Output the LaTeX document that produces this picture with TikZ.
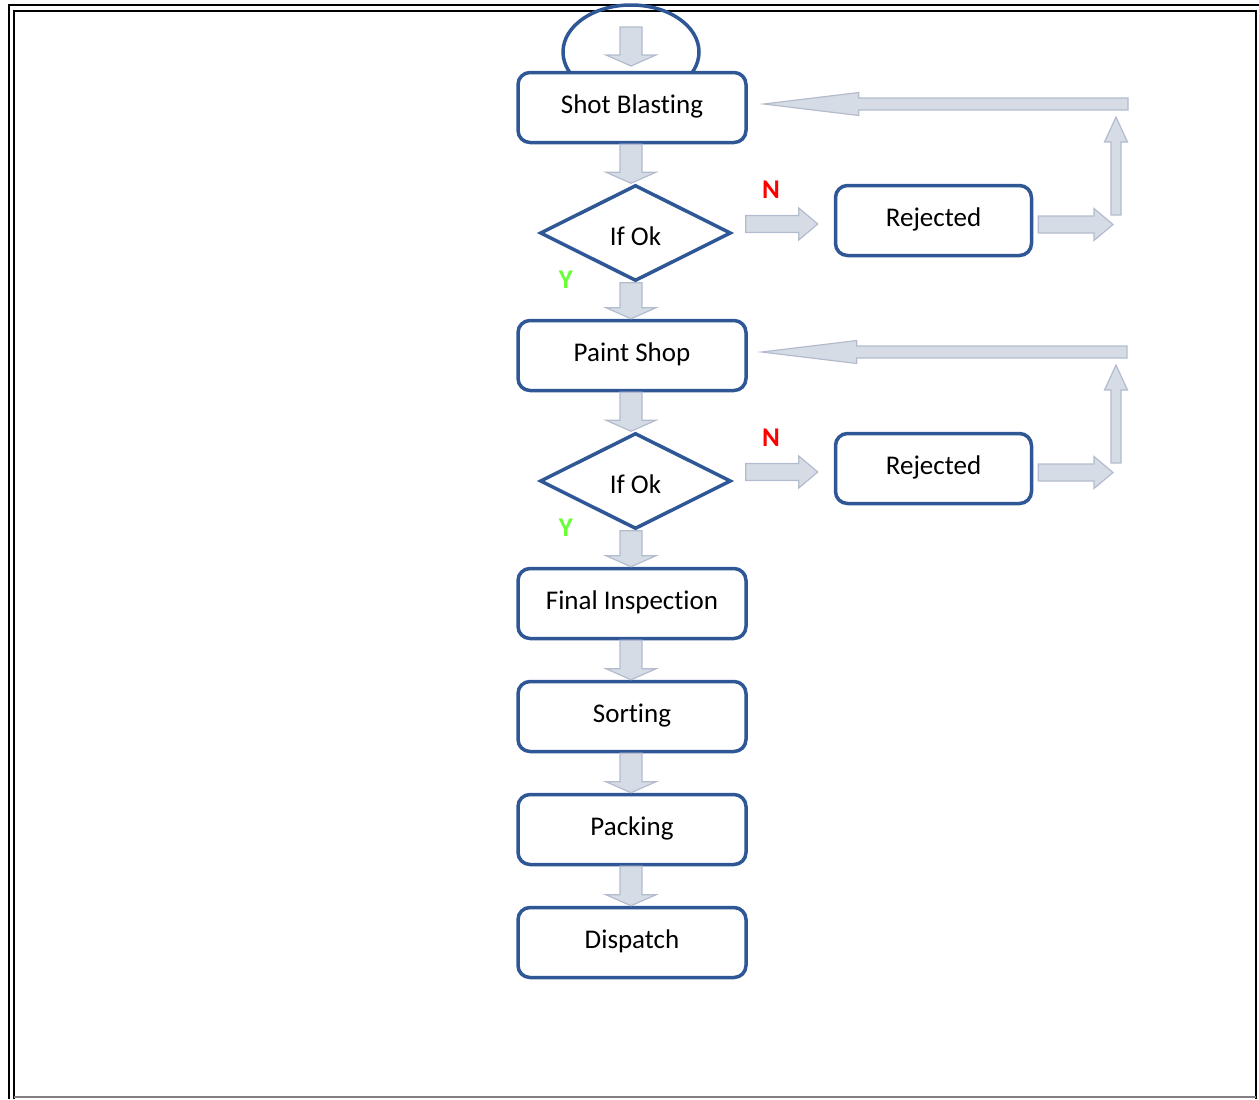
\documentclass[tikz,border=0pt]{standalone}
\usepackage{fontspec}
\setmainfont[Ligatures=NoCommon]{Carlito}
\usetikzlibrary{shapes.geometric,calc}

\definecolor{boxblue}{RGB}{47,87,150}
\definecolor{arrowfill}{RGB}{214,220,229}
\definecolor{arrowline}{RGB}{178,188,206}
\definecolor{yesgreen}{RGB}{102,255,51}

% block arrows between two points (shaft half width, head half width, head length in pt)
\newcommand{\flowdown}[2]{\path[flowarrow] let \p1=(#1), \p2=(#2) in
  (\x1-5.5pt,\y1) -- (\x1-5.5pt,\y2+5.5pt) -- (\x1-12.5pt,\y2+5.5pt) -- (\x1,\y2)
  -- (\x1+12.5pt,\y2+5.5pt) -- (\x1+5.5pt,\y2+5.5pt) -- (\x1+5.5pt,\y1) -- cycle;}
\newcommand{\flowright}[2]{\path[flowarrow] let \p1=(#1), \p2=(#2) in
  (\x1,\y1+4.25pt) -- (\x2-9.5pt,\y1+4.25pt) -- (\x2-9.5pt,\y1+8pt) -- (\x2,\y1)
  -- (\x2-9.5pt,\y1-8pt) -- (\x2-9.5pt,\y1-4.25pt) -- (\x1,\y1-4.25pt) -- cycle;}
\newcommand{\flowup}[2]{\path[flowarrow] let \p1=(#1), \p2=(#2) in
  (\x1-2.5pt,\y1) -- (\x1-2.5pt,\y2-12.5pt) -- (\x1-5.75pt,\y2-12.5pt) -- (\x1,\y2)
  -- (\x1+5.75pt,\y2-12.5pt) -- (\x1+2.5pt,\y2-12.5pt) -- (\x1+2.5pt,\y1) -- cycle;}
\newcommand{\flowleft}[2]{\path[flowarrow] let \p1=(#1), \p2=(#2) in
  (\x1,\y1+3pt) -- (\x2+47.5pt,\y1+3pt) -- (\x2+47.5pt,\y1+5.75pt) -- (\x2,\y1)
  -- (\x2+47.5pt,\y1-5.75pt) -- (\x2+47.5pt,\y1-3pt) -- (\x1,\y1-3pt) -- cycle;}

\tikzset{
	stepbox/.style={draw=boxblue,line width=1.75pt,rounded corners=6pt,fill=white,
		minimum width=114pt,minimum height=35pt,text height=9.5pt,text depth=3.5pt,
		font=\fontsize{13.5}{16}\selectfont},
	rejectbox/.style={stepbox,minimum width=98pt},
	decision/.style={diamond,draw=boxblue,line width=1.75pt,fill=white,inner sep=0pt,
		minimum width=95.5pt,minimum height=48pt,text height=13pt,
		font=\fontsize{13.5}{16}\selectfont},
	flowarrow/.style={fill=arrowfill,draw=arrowline,line width=0.6pt},
	yeslabel/.style={text=yesgreen,font=\fontsize{13.5}{16}\selectfont\bfseries},
	nolabel/.style={text=red,font=\fontsize{13.5}{16}\selectfont\bfseries}
}

\begin{document}
\begin{tikzpicture}[x=0.5pt,y=-0.5pt]
	\useasboundingbox (0,0) rectangle (1259,1099);

	% frame
	\draw[line width=1pt] (9,1099) -- (9,5) -- (1259,5);
	\draw[line width=1pt] (14,1099) -- (14,11) -- (1256,11) -- (1256,1099);
	\draw[gray,line width=0.75pt] (14,1097) -- (1256,1097);

	\node[draw=boxblue,line width=1.75pt,ellipse,minimum width=68pt,minimum height=47pt] (start) at (631,52) {};

	\node[stepbox] (sb) at (632,107.5) {Shot Blasting};
	\node[decision] (ok1) at (635.5,233) {If Ok};
	\node[rejectbox] (rej1) at (933.5,220.5) {Rejected};
	\node[stepbox] (ps) at (632,355.5) {Paint Shop};
	\node[decision] (ok2) at (635.5,481) {If Ok};
	\node[rejectbox] (rej2) at (933.5,468.5) {Rejected};
	\node[stepbox] (fi) at (632,603.5) {Final Inspection};
	\node[stepbox] (so) at (632,716.5) {Sorting};
	\node[stepbox] (pa) at (632,829.5) {Packing};
	\node[stepbox] (di) at (632,942.5) {Dispatch};

	\node[nolabel] (n1) at (771,190) {N};
	\node[yeslabel] (y1) at (566,280) {Y};
	\node[nolabel] (n2) at (771,438) {N};
	\node[yeslabel] (y2) at (566,528) {Y};

	\coordinate (in1) at (631,27);
	\coordinate (in2) at (631,66);
	\coordinate (turn1) at (1116,224);
	\coordinate (top1) at (1116,117);
	\coordinate (back1) at (1128,104);
	\coordinate (turn2) at (1116,472);
	\coordinate (top2) at (1116,365);
	\coordinate (back2) at (1127,352);

	% main line
	\flowdown{in1}{in2}
	\flowdown{$(sb.south)+(-1,0)$}{ok1.north -| sb.south}
	\flowdown{$(ok1.south -| sb.south)+(-1,0)$}{ps.north}
	\flowdown{$(ps.south)+(-1,0)$}{ok2.north -| ps.south}
	\flowdown{$(ok2.south -| ps.south)+(-1,0)$}{fi.north}
	\foreach \a/\b in {fi/so,so/pa,pa/di}
		\flowdown{$(\a.south)+(-1,0)$}{\b.north};

	% rejected loops
	\flowright{$(ok1.east)+(13,-9)$}{$(rej1.west)+(-16,4)$}
	\flowright{$(rej1.east)+(5,4)$}{$(turn1)+(-3,0)$}
	\flowup{$(turn1)+(0,-9)$}{top1}
	\flowleft{back1}{$(sb.east)+(16,-3.5)$}

	\flowright{$(ok2.east)+(13,-9)$}{$(rej2.west)+(-16,4)$}
	\flowright{$(rej2.east)+(5,4)$}{$(turn2)+(-3,0)$}
	\flowup{$(turn2)+(0,-9)$}{top2}
	\flowleft{back2}{$(ps.east)+(14,-3.5)$}
\end{tikzpicture}
\end{document}
